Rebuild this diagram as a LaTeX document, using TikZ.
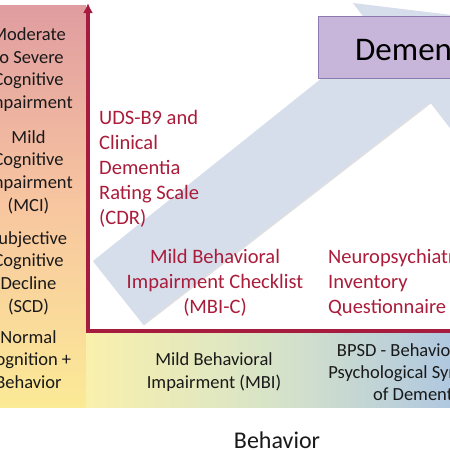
\documentclass[tikz,border=0pt]{standalone}
\usepackage{fontspec}
\setmainfont{Carlito}
\usepackage{tikz}
\usetikzlibrary{calc}
\usetikzlibrary{arrows.meta,shadows}
\usepackage{xcolor}
\definecolor{axisred}{RGB}{165,28,62}
\definecolor{txtred}{RGB}{170,28,58}
\definecolor{colpink}{RGB}{224,156,160}
\definecolor{colpeach}{RGB}{248,198,160}
\definecolor{colyellow}{RGB}{251,234,150}
\definecolor{bandyellow}{RGB}{249,240,172}
\definecolor{bandgreen}{RGB}{216,228,200}
\definecolor{bandblue}{RGB}{176,200,224}
\definecolor{arrowblue}{RGB}{214,222,236}
\definecolor{dempurple}{RGB}{199,181,218}
\definecolor{demborder}{RGB}{142,122,176}
\newcommand{\lvlfont}{\fontsize{18.5}{22.6}\selectfont}
\newcommand{\measfont}{\fontsize{20.5}{25}\selectfont}

\begin{document}
\begin{tikzpicture}[x=1pt,y=-1pt,
    lvl/.style={align=center,inner sep=0pt,anchor=north,text=black!90,font=\lvlfont},
    meas/.style={inner sep=0pt,text=txtred,font=\measfont},
    axis/.style={draw=axisred,line width=3.2pt}]
    \useasboundingbox (0,0) rectangle (450,450);
    \clip (0,0) rectangle (450,450);
    \fill[top color=colpink,bottom color=colyellow,middle color=colpeach] (0,5) rectangle (86,407);
    \fill[left color=bandyellow,right color=bandblue,middle color=bandgreen] (86,333) rectangle (450,407);
    % progression arrow
    \fill[arrowblue,drop shadow={shadow xshift=1pt,shadow yshift=-1.5pt,opacity=.25}]
      (93,261) -- (143,324) -- (430,102) -- (454,133) -- (468,17) -- (353,3) -- (377,34) -- cycle;
    \node[draw=demborder,fill=dempurple,anchor=north west,minimum height=62pt,inner xsep=37pt,
      text height=26pt,text depth=0pt,font=\fontsize{33}{40}\selectfont] (dem) at (318,16) {Dementia};
    \coordinate (O) at (88,331);
    \coordinate (ytop) at (88,3);
    \coordinate (xend) at (460,331);
    \draw[axis,{Latex[length=10pt,width=10pt]}-] (ytop) -- (O) -- (xend);
    % levels
    \node[lvl] (mod) at (28.5,27.7) {Moderate\\to Severe\\Cognitive\\Impairment};
    \node[lvl] (mci) at (28.5,130.3) {Mild\\Cognitive\\Impairment\\(MCI)};
    \node[lvl] (scd) at (28.5,231.3) {Subjective\\Cognitive\\Decline\\(SCD)};
    \node[lvl] (norm) at (28.5,330.3) {Normal\\Cognition +\\Behavior};
    \node[lvl] (mbi) at (214,352.7) {Mild Behavioral\\Impairment (MBI)};
    \node[lvl,font=\fontsize{18.5}{21.7}\selectfont] (bpsd) at (419.5,343.7) {BPSD - Behavioral and\\Psychological Symptoms\\of Dementia};
    % measures
    \node[meas,align=left,anchor=north west] (cdr) at (99,110) {UDS-B9 and\\Clinical\\Dementia\\Rating Scale\\(CDR)};
    \node[meas,align=center,anchor=north] (mbic) at (215,249.5) {Mild Behavioral\\Impairment Checklist\\(MBI-C)};
    \node[meas,align=left,anchor=north west] (npiq) at (328,249) {Neuropsychiatric\\Inventory\\Questionnaire};
    \node[anchor=base,inner sep=0pt,text=black!90,font=\fontsize{24}{28}\selectfont] (beh) at (277,448) {Behavior};
\end{tikzpicture}
\end{document}
